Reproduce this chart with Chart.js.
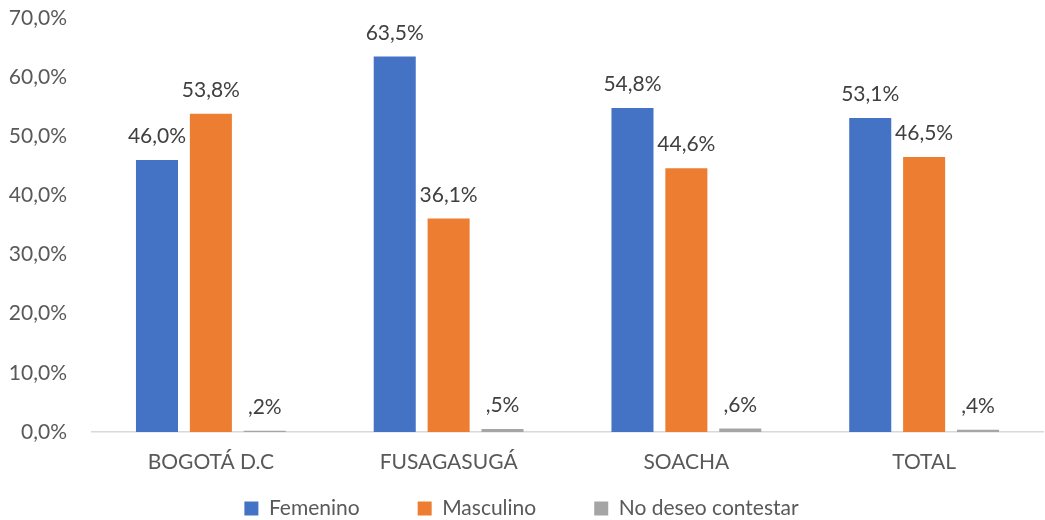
<!DOCTYPE html>
<html>
<head>
<meta charset="utf-8">
<script src="https://cdn.jsdelivr.net/npm/chart.js@4/dist/chart.umd.min.js"></script>
<style>
html,body{margin:0;padding:0;background:#fff;}
#wrap{width:1045px;height:520px;}
</style>
</head>
<body>
<div id="wrap"><canvas id="chart"></canvas></div>
<script>
const categories = ["BOGOTÁ D.C", "FUSAGASUGÁ", "SOACHA", "TOTAL"];
const femenino = [46.0, 63.5, 54.8, 53.1];
const masculino = [53.8, 36.1, 44.6, 46.5];
const noContesta = [0.2, 0.5, 0.6, 0.4];
const yTicks = [0, 10, 20, 30, 40, 50, 60, 70];

// formato tipo Excel: 46,0%  y  ,2%
function fmt(v){
  let s = v.toFixed(1).replace(".", ",");
  if (s.startsWith("0,") && v !== 0) s = s.slice(1);
  return s + "%";
}

const FONT = "Lato, 'Open Sans', sans-serif";
const FS = 21;
const LEG_PAD = 58;

const barLabels = {
  id: "barLabels",
  afterDatasetsDraw(chart){
    const ctx = chart.ctx;
    ctx.save();
    ctx.font = FS + "px " + FONT;
    ctx.fillStyle = "#404040";
    ctx.textAlign = "center";
    ctx.textBaseline = "bottom";
    chart.data.datasets.forEach((ds, i) => {
      const meta = chart.getDatasetMeta(i);
      meta.data.forEach((bar, j) => {
        ctx.fillText(fmt(ds.data[j]), bar.x, bar.y - 13);
      });
    });
    ctx.restore();
  }
};

// leyenda: mucho espacio horizontal, poco vertical
const legendFix = {
  id: "legendFix",
  afterInit(chart){
    const lg = chart.legend;
    const fit = lg.fit;
    lg.fit = function(){ fit.call(this); this.height = 43; };
    const draw = lg._draw;
    lg._draw = function(){
      const t = this.top;
      this.top = t + 21 - LEG_PAD;
      draw.call(this);
      this.top = t;
    };
  }
};

new Chart(document.getElementById("chart"), {
  type: "bar",
  data: {
    labels: categories,
    datasets: [
      {label: "Femenino", data: femenino, backgroundColor: "#4472C4"},
      {label: "Masculino", data: masculino, backgroundColor: "#ED7D31"},
      {label: "No deseo contestar", data: noContesta, backgroundColor: "#A5A5A5"}
    ]
  },
  options: {
    responsive: true,
    maintainAspectRatio: false,
    animation: false,
    categoryPercentage: 0.68,
    barPercentage: 0.78,
    layout: {padding: {top: 18, right: 2, left: 0, bottom: 0}},
    plugins: {
      legend: {
        position: "bottom",
        labels: {
          color: "#595959",
          font: {family: FONT, size: FS},
          boxWidth: 14,
          boxHeight: 14,
          padding: LEG_PAD
        }
      },
      tooltip: {enabled: false}
    },
    scales: {
      x: {
        grid: {display: false},
        border: {display: true, color: "#D9D9D9", width: 1.5},
        ticks: {color: "#595959", font: {family: FONT, size: FS}, padding: 10},
        afterFit: s => { s.height = 45; }
      },
      y: {
        min: 0,
        max: 70,
        afterBuildTicks: s => { s.ticks = yTicks.map(v => ({value: v})); },
        afterFit: s => { s.width = 92; s.paddingTop = 0; s.paddingBottom = 0; },
        grid: {display: false},
        border: {display: false},
        ticks: {
          color: "#595959",
          font: {family: FONT, size: FS},
          padding: 17,
          callback: v => fmt(v)
        }
      }
    }
  },
  plugins: [barLabels, legendFix]
});
</script>
</body>
</html>
